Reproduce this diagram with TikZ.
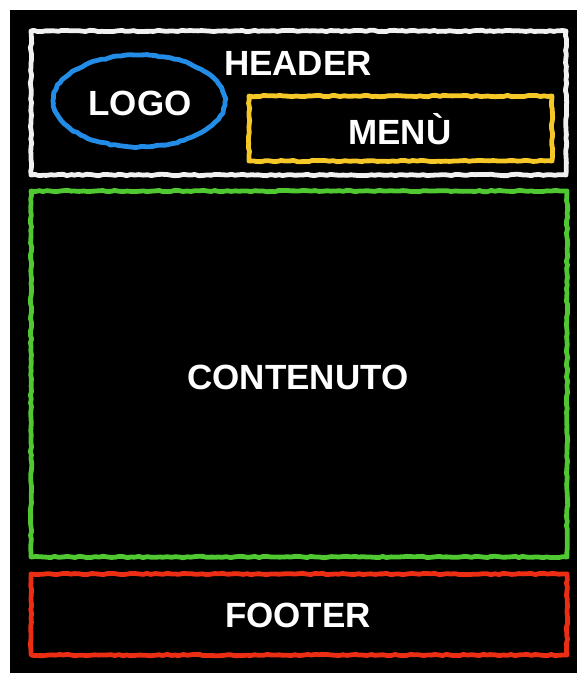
\documentclass[tikz,border=0pt]{standalone}
\usepackage{fontspec}
\setmainfont{Liberation Sans}
\usepackage{xcolor}
\usepackage{tikz}
\usetikzlibrary{decorations.pathmorphing}

\definecolor{chalkwhite}{RGB}{240,240,240}
\definecolor{chalkblue}{RGB}{35,140,230}
\definecolor{chalkyellow}{RGB}{245,200,40}
\definecolor{chalkgreen}{RGB}{80,200,50}
\definecolor{chalkred}{RGB}{235,45,20}

\begin{document}
\begin{tikzpicture}[
  x=0.5pt,
  y=-0.5pt,
  font=\fontsize{17.5}{20}\selectfont\bfseries,
  chalk/.style={line width=2.4pt, line join=round,
    decorate, decoration={random steps, segment length=2pt, amplitude=0.35pt}},
  label/.style={text=white, inner sep=0pt}
]
  \useasboundingbox[fill=white] (0,0) rectangle (577,673);
  \fill[black] (10,10) rectangle (577,673);

  \draw[chalk, chalkwhite] (31,31) rectangle (566,175);
  \draw[chalk, chalkblue] (139,101) ellipse [x radius=86, y radius=46];
  \draw[chalk, chalkyellow] (249,96) rectangle (552,161);
  \draw[chalk, chalkgreen] (31,191) rectangle (567,557);
  \draw[chalk, chalkred] (31,574) rectangle (567,655);

  \node[label] (header) at (298,63) {HEADER};
  \node[label] (logo) at (140,103) {LOGO};
  \node[label] (menu) at (400,129) {MENÙ};
  \node[label] (content) at (298,377) {CONTENUTO};
  \node[label] (footer) at (298,615) {FOOTER};
\end{tikzpicture}
\end{document}
